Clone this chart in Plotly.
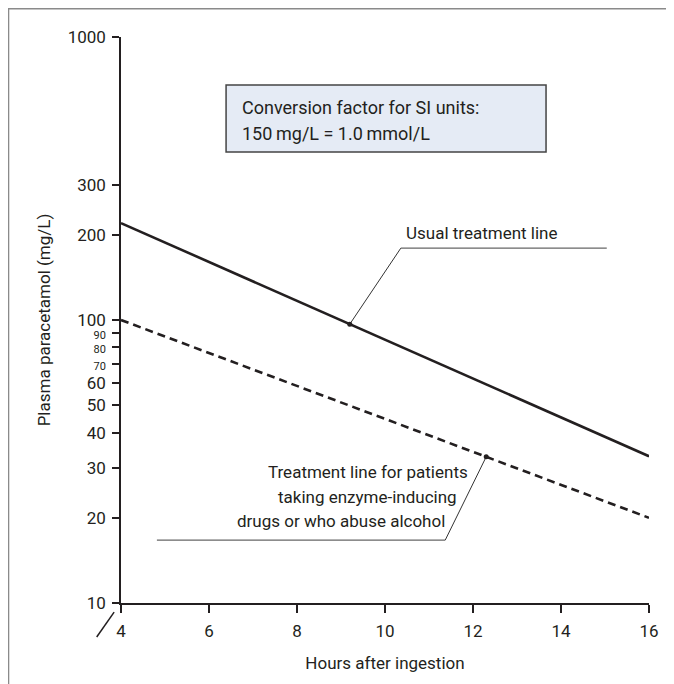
import numpy as np
import plotly.graph_objects as go

# values
hours = [4, 16]
usual_line = [220, 33]
enzyme_line = [100, 20]
x_ticks = [4, 6, 8, 10, 12, 14, 16]
y_ticks = [10, 20, 30, 40, 50, 60, 70, 80, 90, 100, 200, 300, 1000]
small_labels = [70, 80, 90]   # crowded on a log axis, set smaller
usual_dot_h = 9.2
enzyme_dot_h = 12.3

ink = '#231f20'
font = 'Roboto, Open Sans, sans-serif'

y_lo, y_hi = 1, 3  # log10 range


def on_line(h, vals):
    return 10 ** np.interp(h, hours, np.log10(vals))


def paper_to_y(p):
    return 10 ** (y_lo + p * (y_hi - y_lo))


def paper_to_x(p):
    return hours[0] + p * (hours[1] - hours[0])


fig = go.Figure()

fig.add_trace(go.Scatter(x=hours, y=usual_line, mode='lines',
                         line=dict(color=ink, width=2.6), hoverinfo='skip'))
fig.add_trace(go.Scatter(x=hours, y=enzyme_line, mode='lines',
                         line=dict(color=ink, width=2.6, dash='8px,5px'), hoverinfo='skip'))

# leader lines: dot on the line -> knee -> horizontal rule
u_dot = on_line(usual_dot_h, usual_line)
u_knee_x, u_knee_y, u_end_x = paper_to_x(0.530), paper_to_y(0.627), paper_to_x(0.920)
fig.add_trace(go.Scatter(x=[usual_dot_h, u_knee_x], y=[u_dot, u_knee_y], mode='lines',
                         line=dict(color='#333', width=1), hoverinfo='skip'))
fig.add_trace(go.Scatter(x=[u_knee_x, u_end_x], y=[u_knee_y, u_knee_y], mode='lines',
                         line=dict(color='#666', width=1.3), hoverinfo='skip'))

e_dot = on_line(enzyme_dot_h, enzyme_line)
e_knee_x, e_knee_y, e_end_x = paper_to_x(0.614), paper_to_y(0.111), paper_to_x(0.068)
fig.add_trace(go.Scatter(x=[enzyme_dot_h, e_knee_x], y=[e_dot, e_knee_y], mode='lines',
                         line=dict(color='#333', width=1), hoverinfo='skip'))
fig.add_trace(go.Scatter(x=[e_knee_x, e_end_x], y=[e_knee_y, e_knee_y], mode='lines',
                         line=dict(color='#666', width=1.3), hoverinfo='skip'))

fig.add_trace(go.Scatter(x=[usual_dot_h, enzyme_dot_h], y=[u_dot, e_dot], mode='markers',
                         marker=dict(color=ink, size=5), hoverinfo='skip'))

ann = dict(showarrow=False, xref='paper', yref='paper', yanchor='middle')
f17 = dict(family=font, size=17, color=ink)
f18 = dict(family=font, size=18, color=ink)
annotations = [
    dict(text='Usual treatment line', x=0.536, y=0.654, xanchor='left', font=f17, **ann),
    dict(text='Treatment line for patients', x=0.661, y=0.231, xanchor='right', font=f17, **ann),
    dict(text='taking enzyme-inducing', x=0.640, y=0.187, xanchor='right', font=f17, **ann),
    dict(text='drugs or who abuse alcohol', x=0.617, y=0.145, xanchor='right', font=f17, **ann),
    dict(text='Conversion factor for SI units:', x=0.225, y=0.876, xanchor='left', font=f18, **ann),
    dict(text='150\u2009mg/L = 1.0\u2009mmol/L', x=0.225, y=0.830, xanchor='left', font=f18, **ann),
]

# page sits 8px in from the window corner; these are figure-pixel based paper coords
shapes = [
    # info box
    dict(type='rect', xref='paper', yref='paper', x0=0.199, x1=0.805, y0=0.797, y1=0.915,
         fillcolor='#e5ebf5', line=dict(color='#444', width=1.5), layer='below'),
    # outer frame (only top and left edges fall inside the page)
    dict(type='rect', xref='paper', yref='paper', x0=-0.213, x1=1.3, y0=-0.4, y1=1.0499,
         line=dict(color='#8a8a8a', width=1.5)),
    # axis break mark
    dict(type='line', xref='paper', yref='paper', x0=-0.046, y0=-0.060, x1=-0.013, y1=-0.016,
         line=dict(color=ink, width=1.5)),
]

y_text = [f'<span style="font-size:11px">{v}</span>' if v in small_labels else str(v)
          for v in y_ticks]

fig.update_layout(
    width=666, height=676,
    margin=dict(l=113, r=25, t=29, b=81),
    paper_bgcolor='white', plot_bgcolor='white',
    showlegend=False,
    font=dict(family=font, size=17, color=ink),
    annotations=annotations,
    shapes=shapes,
    xaxis=dict(range=[hours[0], hours[1]], tickvals=x_ticks, showgrid=False, zeroline=False,
               showline=True, linecolor=ink, linewidth=1.5, ticks='outside', ticklen=8,
               tickwidth=1.5, tickcolor=ink, tickfont=dict(size=17), ticklabelstandoff=4,
               title=dict(text='Hours after ingestion', font=dict(size=17), standoff=17)),
    yaxis=dict(type='log', range=[y_lo, y_hi], tickvals=y_ticks, ticktext=y_text,
               showgrid=False, zeroline=False,
               showline=True, linecolor=ink, linewidth=1.5, ticks='outside', ticklen=7,
               tickwidth=1.5, tickcolor=ink, tickfont=dict(size=17), ticklabelstandoff=3,
               title=dict(text='Plasma paracetamol (mg/L)', font=dict(size=17), standoff=13)),
)

fig.write_html("out.html")
